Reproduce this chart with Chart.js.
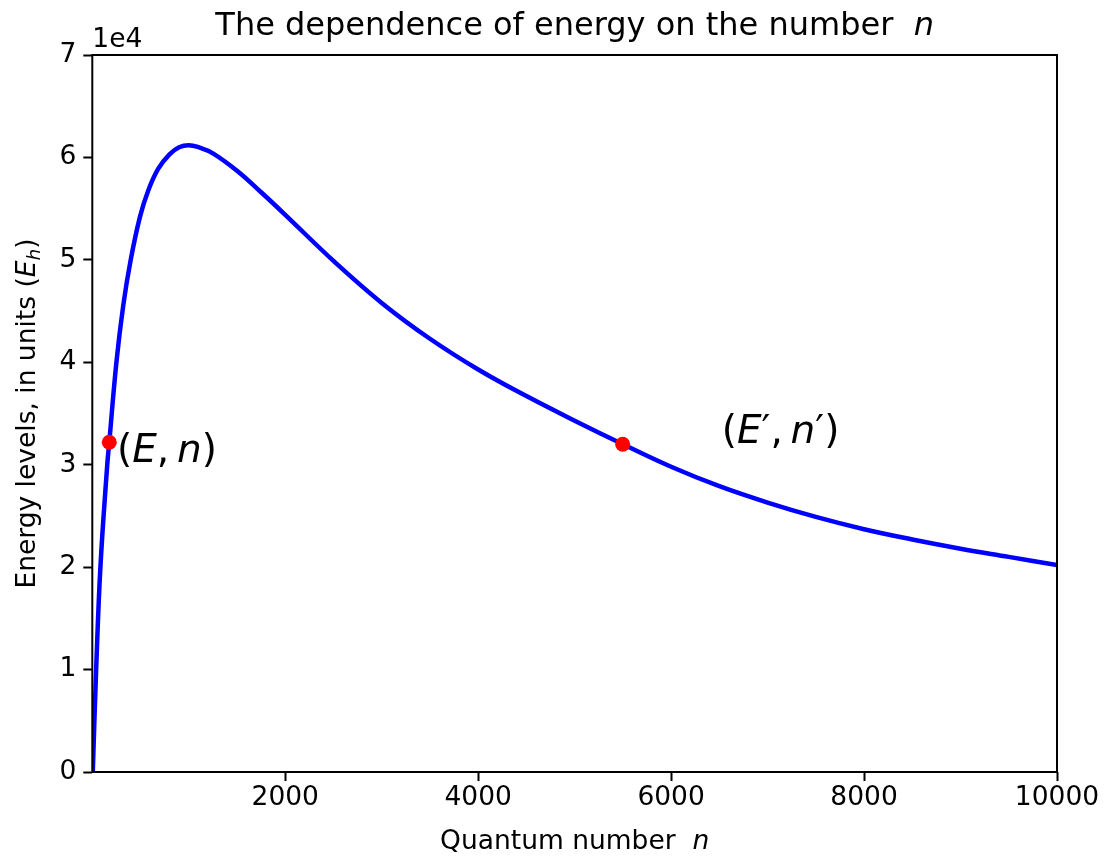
<!DOCTYPE html>
<html>
<head>
<meta charset="utf-8">
<script src="https://cdn.jsdelivr.net/npm/chart.js@4.4.1/dist/chart.umd.min.js"></script>
<style>
  html, body { margin: 0; padding: 0; background: #fff; }
  #wrap { width: 1120px; height: 860px; }
</style>
</head>
<body>
<div id="wrap"><canvas id="energyChart"></canvas></div>
<script>
// curve
const nValues = [5, 40, 84, 155, 176, 250, 320, 398, 494, 581, 684, 800, 900, 1000, 1100, 1250, 1500, 1750, 2000, 2500, 3000, 3500, 4000, 4500, 5000, 5500, 6000, 6500, 7000, 7500, 8000, 8500, 9000, 9500, 10000];
const energyValues = [0, 10000, 20000, 30000, 32200, 40000, 45500, 50000, 54200, 56800, 58900, 60300, 61000, 61200, 61000, 60400, 58700, 56600, 54400, 49900, 45800, 42300, 39300, 36700, 34300, 32000, 29800, 27900, 26300, 24900, 23700, 22700, 21800, 21000, 20200];

// the two marked states
const markedN = [176, 5498];
const markedE = [32200, 32000];

// ticks
const xTickValues = [2000, 4000, 6000, 8000, 10000];
const yTickValues = [0, 10000, 20000, 30000, 40000, 50000, 60000, 70000];

const FAMILY = '"DejaVu Sans"';
const norm = (s) => `${s}px ${FAMILY}`;
const ital = (s) => `italic ${s}px ${FAMILY}`;

function drawRuns(ctx, runs, x, y, align) {
  let total = 0;
  runs.forEach((r) => {
    ctx.font = r.font;
    r.w = ctx.measureText(r.text).width;
    total += r.w;
  });
  let cx = align === "center" ? x - total / 2 : x;
  runs.forEach((r) => {
    ctx.font = r.font;
    ctx.fillText(r.text, cx, y + (r.dy || 0));
    cx += r.w;
  });
}

const spines = {
  id: "spines",
  afterDatasetsDraw(chart) {
    const { ctx, chartArea: a } = chart;
    ctx.save();
    ctx.strokeStyle = "#000";
    ctx.lineWidth = 2;
    ctx.strokeRect(a.left, a.top, a.right - a.left, a.bottom - a.top);
    ctx.restore();
  },
};

const texts = {
  id: "texts",
  afterDraw(chart) {
    const { ctx, chartArea: a, scales } = chart;
    const midX = (a.left + a.right) / 2;
    ctx.save();
    ctx.fillStyle = "#000";
    ctx.textAlign = "left";
    ctx.textBaseline = "alphabetic";

    drawRuns(ctx, [
      { text: "The dependence of energy on the number  ", font: norm(32) },
      { text: "n", font: ital(32) },
    ], midX, 35, "center");

    ctx.font = norm(26.5);
    ctx.fillText("1e4", a.left, 47);

    drawRuns(ctx, [
      { text: "Quantum number  ", font: norm(26.5) },
      { text: "n", font: ital(26.5) },
    ], midX, 849, "center");

    // point labels
    ctx.textBaseline = "middle";
    const m = 39;
    drawRuns(ctx, [
      { text: "(", font: norm(m) },
      { text: "E", font: ital(m) },
      { text: ",\u2009", font: norm(m) },
      { text: "n", font: ital(m) },
      { text: ")", font: norm(m) },
    ], scales.x.getPixelForValue(256), scales.y.getPixelForValue(31300), "left");
    drawRuns(ctx, [
      { text: "(", font: norm(m) },
      { text: "E", font: ital(m) },
      { text: "\u2032", font: norm(m) },
      { text: ",\u2009", font: norm(m) },
      { text: "n", font: ital(m) },
      { text: "\u2032", font: norm(m) },
      { text: ")", font: norm(m) },
    ], scales.x.getPixelForValue(6524), scales.y.getPixelForValue(33150), "left");

    // y axis label
    ctx.textBaseline = "alphabetic";
    ctx.translate(35, (a.top + a.bottom) / 2);
    ctx.rotate(-Math.PI / 2);
    drawRuns(ctx, [
      { text: "Energy levels, in units (", font: norm(26.5) },
      { text: "E", font: ital(26.5) },
      { text: "h", font: ital(18.5), dy: 5 },
      { text: ")", font: norm(26.5) },
    ], 0, 0, "center");
    ctx.restore();
  },
};

const ctxEnergy = document.getElementById("energyChart").getContext("2d");
const energyChart = new Chart(ctxEnergy, {
  type: "line",
  data: {
    datasets: [
      {
        label: "Marked states",
        type: "scatter",
        data: markedN.map((n, i) => ({ x: n, y: markedE[i] })),
        pointRadius: 7.5,
        pointBackgroundColor: "#ff0000",
        pointBorderWidth: 0,
        showLine: false,
      },
      {
        label: "Energy",
        data: nValues.map((n, i) => ({ x: n, y: energyValues[i] })),
        borderColor: "#0000ff",
        borderWidth: 4.5,
        pointRadius: 0,
        fill: false,
        tension: 0.4,
      },
    ],
  },
  options: {
    responsive: true,
    maintainAspectRatio: false,
    animation: false,
    layout: { padding: { top: 55, right: 63, left: 0, bottom: 0 } },
    scales: {
      x: {
        type: "linear",
        min: 0,
        max: 10000,
        afterBuildTicks: (axis) => {
          axis.ticks = xTickValues.map((v) => ({ value: v }));
        },
        afterFit: (axis) => {
          axis.height = 88;
        },
        grid: {
          drawOnChartArea: false,
          drawTicks: true,
          tickLength: 9,
          tickColor: "#000",
          tickWidth: 2,
        },
        border: { display: false },
        ticks: {
          color: "#000",
          font: { family: "DejaVu Sans", size: 26.5 },
          padding: 1,
          maxRotation: 0,
          autoSkip: false,
          callback: (v) => String(v),
        },
      },
      y: {
        type: "linear",
        min: 0,
        max: 70000,
        afterBuildTicks: (axis) => {
          axis.ticks = yTickValues.map((v) => ({ value: v }));
        },
        afterFit: (axis) => {
          axis.width = 92.3;
        },
        grid: {
          drawOnChartArea: false,
          drawTicks: true,
          tickLength: 9,
          tickColor: "#000",
          tickWidth: 2,
        },
        border: { display: false },
        ticks: {
          color: "#000",
          font: { family: "DejaVu Sans", size: 26.5 },
          padding: 7,
          autoSkip: false,
          callback: (v) => String(v / 10000),
        },
      },
    },
    plugins: {
      legend: { display: false },
      tooltip: { enabled: false },
    },
  },
  plugins: [spines, texts],
});
</script>
</body>
</html>
